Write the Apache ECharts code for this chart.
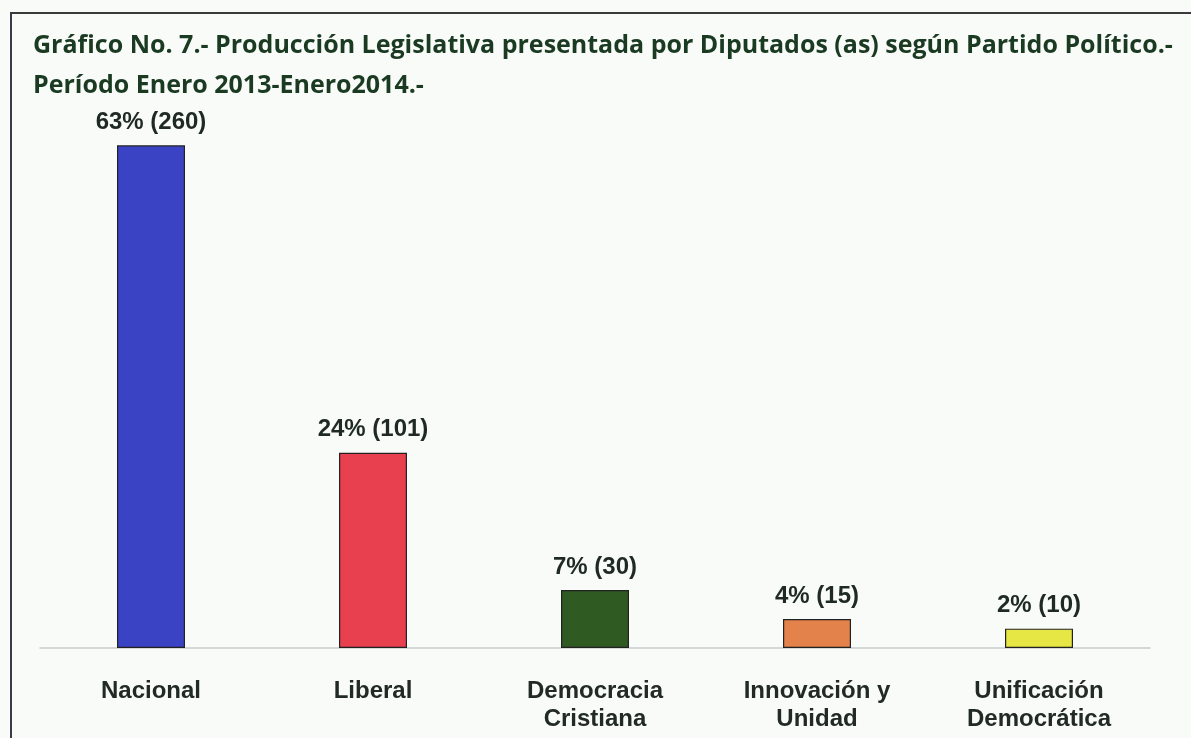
<!DOCTYPE html>
<html>
<head>
<meta charset="utf-8">
<script src="https://cdn.jsdelivr.net/npm/echarts@6/dist/echarts.min.js"></script>
<style>
  html, body { margin: 0; padding: 0; background: #f9fbf9; }
  #frame { position: absolute; left: 10px; top: 12px; width: 1200px; height: 760px;
           border-left: 2px solid #3a3a4a; border-top: 2px solid #3a3a3a; }
  #chart { position: absolute; left: 0; top: 0; width: 1191px; height: 738px; }
</style>
</head>
<body>
<div id="frame"></div>
<div id="chart"></div>
<script>
const titleLines = [
  'Gráfico No. 7.- Producción Legislativa presentada por Diputados (as) según Partido Político.-',
  'Período Enero 2013-Enero2014.-'
];
const categories = ['Nacional', 'Liberal', 'Democracia\nCristiana', 'Innovación y\nUnidad', 'Unificación\nDemocrática'];
const counts = [260, 101, 30, 15, 10];
const percents = [63, 24, 7, 4, 2];
const barColors = ['#3a43c4', '#e8404f', '#2f5a22', '#e3824a', '#e6e644'];

const chart = echarts.init(document.getElementById('chart'));
chart.setOption({
  animation: false,
  backgroundColor: 'transparent',
  title: {
    text: titleLines.join('\n'),
    left: 28, top: 21,
    textStyle: { fontFamily: 'Open Sans', fontWeight: 'bold', fontSize: 25, color: '#1b3a22', lineHeight: 40 }
  },
  grid: { left: 40, right: 41, top: 68, bottom: 90 },
  xAxis: {
    type: 'category',
    data: categories,
    axisLine: { lineStyle: { color: '#c8cccc', width: 1.5 } },
    axisTick: { show: false },
    axisLabel: { margin: 29, fontFamily: 'Liberation Sans', fontWeight: 'bold', fontSize: 24, color: '#222a26', lineHeight: 28 }
  },
  yAxis: { type: 'value', min: 0, max: 300, show: false, splitLine: { show: false } },
  series: [{
    type: 'bar',
    barWidth: 68,
    data: counts.map((v, i) => ({ value: v, itemStyle: { color: barColors[i] } })),
    itemStyle: { borderColor: '#222', borderWidth: 1.2 },
    label: {
      show: true, position: 'top', distance: 11,
      fontFamily: 'Liberation Sans', fontWeight: 'bold', fontSize: 24, color: '#1f2a22',
      formatter: p => percents[p.dataIndex] + '% (' + counts[p.dataIndex] + ')'
    }
  }]
});
</script>
</body>
</html>
